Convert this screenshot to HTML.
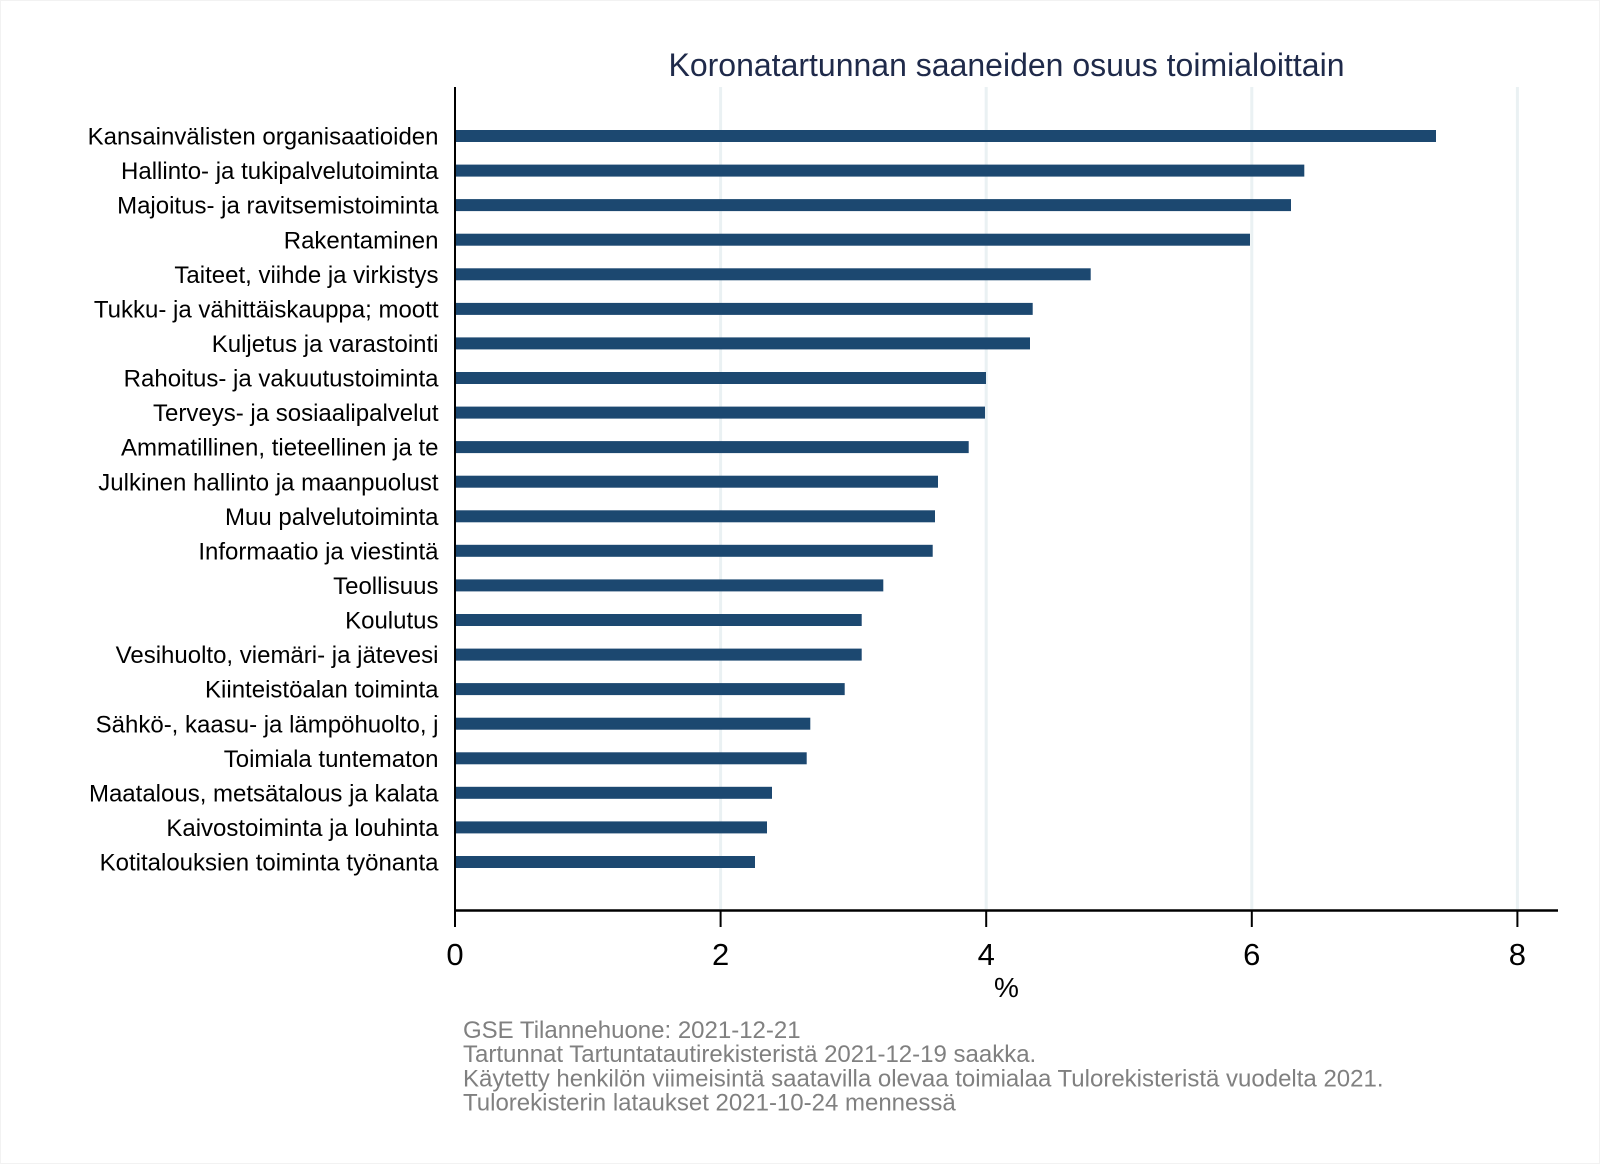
<!DOCTYPE html>
<html>
<head>
<meta charset="utf-8">
<style>
  html, body { margin: 0; padding: 0; background: #ffffff; }
  body { width: 1600px; height: 1164px; overflow: hidden; }
  svg { display: block; }
  text { font-family: "Liberation Sans", Arial, sans-serif; }
</style>
</head>
<body>
<svg width="1600" height="1164" viewBox="0 0 1600 1164" xmlns="http://www.w3.org/2000/svg">
  <rect x="0" y="0" width="1600" height="1164" fill="#ffffff"/>
  <rect x="0.5" y="0.5" width="1599" height="1163" fill="none" stroke="#f2f2f2" stroke-width="1"/>

  <!-- Title -->
  <text x="1006.5" y="76" text-anchor="middle" font-size="32" fill="#1f2a4a">Koronatartunnan saaneiden osuus toimialoittain</text>

  <!-- Gridlines -->
  <g stroke="#eaf1f3" stroke-width="3">
    <line x1="720.6" y1="87" x2="720.6" y2="909"/>
    <line x1="986.2" y1="87" x2="986.2" y2="909"/>
    <line x1="1251.8" y1="87" x2="1251.8" y2="909"/>
    <line x1="1517.4" y1="87" x2="1517.4" y2="909"/>
  </g>

  <!-- Bars -->
  <g fill="#1c4870">
    <rect x="455" y="130.0" width="981.0" height="12"/>
    <rect x="455" y="164.6" width="849.3" height="12"/>
    <rect x="455" y="199.1" width="836.0" height="12"/>
    <rect x="455" y="233.7" width="795.0" height="12"/>
    <rect x="455" y="268.3" width="635.7" height="12"/>
    <rect x="455" y="302.9" width="577.7" height="12"/>
    <rect x="455" y="337.4" width="575.0" height="12"/>
    <rect x="455" y="372.0" width="531.0" height="12"/>
    <rect x="455" y="406.6" width="530.0" height="12"/>
    <rect x="455" y="441.1" width="513.7" height="12"/>
    <rect x="455" y="475.7" width="483.0" height="12"/>
    <rect x="455" y="510.3" width="480.0" height="12"/>
    <rect x="455" y="544.8" width="477.7" height="12"/>
    <rect x="455" y="579.4" width="428.3" height="12"/>
    <rect x="455" y="614.0" width="406.7" height="12"/>
    <rect x="455" y="648.6" width="406.7" height="12"/>
    <rect x="455" y="683.1" width="389.7" height="12"/>
    <rect x="455" y="717.7" width="355.3" height="12"/>
    <rect x="455" y="752.3" width="351.7" height="12"/>
    <rect x="455" y="786.8" width="317.0" height="12"/>
    <rect x="455" y="821.4" width="312.0" height="12"/>
    <rect x="455" y="856.0" width="300.0" height="12"/>
  </g>

  <!-- Category labels -->
  <g font-size="24" fill="#000000" text-anchor="end">
    <text x="438.5" y="144.6">Kansainvälisten organisaatioiden</text>
    <text x="438.5" y="179.2">Hallinto- ja tukipalvelutoiminta</text>
    <text x="438.5" y="213.7">Majoitus- ja ravitsemistoiminta</text>
    <text x="438.5" y="248.3">Rakentaminen</text>
    <text x="438.5" y="282.9">Taiteet, viihde ja virkistys</text>
    <text x="438.5" y="317.5">Tukku- ja vähittäiskauppa; moott</text>
    <text x="438.5" y="352.0">Kuljetus ja varastointi</text>
    <text x="438.5" y="386.6">Rahoitus- ja vakuutustoiminta</text>
    <text x="438.5" y="421.2">Terveys- ja sosiaalipalvelut</text>
    <text x="438.5" y="455.7">Ammatillinen, tieteellinen ja te</text>
    <text x="438.5" y="490.3">Julkinen hallinto ja maanpuolust</text>
    <text x="438.5" y="524.9">Muu palvelutoiminta</text>
    <text x="438.5" y="559.4">Informaatio ja viestintä</text>
    <text x="438.5" y="594.0">Teollisuus</text>
    <text x="438.5" y="628.6">Koulutus</text>
    <text x="438.5" y="663.2">Vesihuolto, viemäri- ja jätevesi</text>
    <text x="438.5" y="697.7">Kiinteistöalan toiminta</text>
    <text x="438.5" y="732.3">Sähkö-, kaasu- ja lämpöhuolto, j</text>
    <text x="438.5" y="766.9">Toimiala tuntematon</text>
    <text x="438.5" y="801.4">Maatalous, metsätalous ja kalata</text>
    <text x="438.5" y="836.0">Kaivostoiminta ja louhinta</text>
    <text x="438.5" y="870.6">Kotitalouksien toiminta työnanta</text>
  </g>

  <!-- Axes -->
  <line x1="455" y1="87" x2="455" y2="912" stroke="#000000" stroke-width="2"/>
  <line x1="454" y1="910.5" x2="1558" y2="910.5" stroke="#000000" stroke-width="2.5"/>

  <!-- Ticks -->
  <g stroke="#000000" stroke-width="2">
    <line x1="455" y1="910" x2="455" y2="927"/>
    <line x1="720.6" y1="910" x2="720.6" y2="927"/>
    <line x1="986.2" y1="910" x2="986.2" y2="927"/>
    <line x1="1251.8" y1="910" x2="1251.8" y2="927"/>
    <line x1="1517.4" y1="910" x2="1517.4" y2="927"/>
  </g>

  <!-- Tick labels -->
  <g font-size="31" fill="#000000" text-anchor="middle">
    <text x="455" y="965">0</text>
    <text x="720.6" y="965">2</text>
    <text x="986.2" y="965">4</text>
    <text x="1251.8" y="965">6</text>
    <text x="1517.4" y="965">8</text>
  </g>

  <!-- Axis title -->
  <text x="1006.5" y="997" text-anchor="middle" font-size="28" fill="#000000">%</text>

  <!-- Notes -->
  <g font-size="24" fill="#808080">
    <text x="463" y="1038">GSE Tilannehuone: 2021-12-21</text>
    <text x="463" y="1062.2">Tartunnat Tartuntatautirekisteristä 2021-12-19 saakka.</text>
    <text x="463" y="1086.4">Käytetty henkilön viimeisintä saatavilla olevaa toimialaa Tulorekisteristä vuodelta 2021.</text>
    <text x="463" y="1110.6">Tulorekisterin lataukset 2021-10-24 mennessä</text>
  </g>
</svg>
</body>
</html>
